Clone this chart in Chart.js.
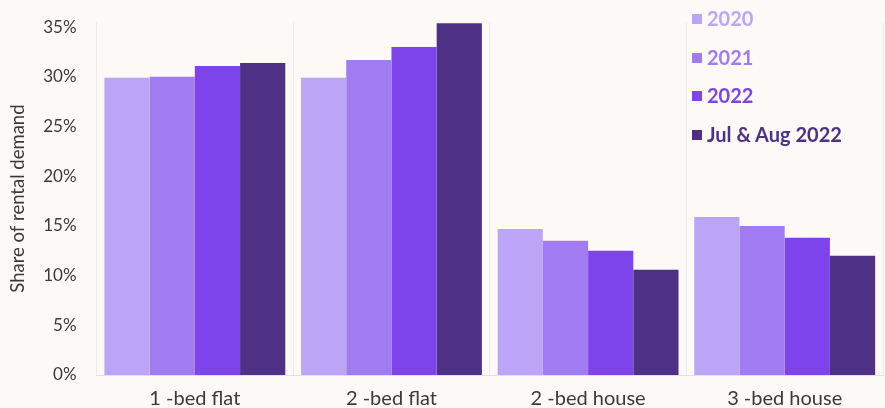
<!DOCTYPE html>
<html>
<head>
<meta charset="utf-8">
<script src="https://cdn.jsdelivr.net/npm/chart.js@4.4.0/dist/chart.umd.min.js"></script>
<style>
  html, body { margin: 0; padding: 0; background: #fcf9f7; }
  #wrap { position: relative; width: 885px; height: 408px; }
  #legend { position: absolute; left: 692px; top: 5px; font-family: Lato, sans-serif; font-weight: bold; font-size: 20px; }
  #legend div { height: 38.5px; line-height: 26px; white-space: nowrap; }
  #legend span.box { display: inline-block; width: 10px; height: 10px; margin-right: 5px; vertical-align: 2px; }
</style>
</head>
<body>
<div id="wrap">
  <canvas id="chart" width="885" height="408"></canvas>
  <div id="legend"></div>
</div>
<script>
const categories = ['1 -bed flat', '2 -bed flat', '2 -bed house', '3 -bed house'];
const seriesNames = ['2020', '2021', '2022', 'Jul & Aug 2022'];
const values2020 = [29.9, 29.9, 14.7, 15.9];
const values2021 = [30.0, 31.7, 13.5, 15.0];
const values2022 = [31.1, 33.0, 12.5, 13.8];
const valuesJulAug = [31.4, 35.4, 10.6, 12.0];
const yTicks = [0, 5, 10, 15, 20, 25, 30, 35];
const colors = ['#bca4f7', '#a07bf2', '#7d44ec', '#4e3185'];

document.addEventListener('DOMContentLoaded', function() {
    const allValues = [values2020, values2021, values2022, valuesJulAug];

    // Legend in the top right corner
    const legend = document.getElementById('legend');
    seriesNames.forEach(function(name, i) {
        const row = document.createElement('div');
        row.style.color = colors[i];
        row.innerHTML = '<span class="box" style="background:' + colors[i] + '"></span>' + name;
        legend.appendChild(row);
    });

    const ctx = document.getElementById('chart').getContext('2d');
    new Chart(ctx, {
        type: 'bar',
        data: {
            labels: categories,
            datasets: seriesNames.map(function(name, i) {
                return {
                    label: name,
                    data: allValues[i],
                    backgroundColor: colors[i],
                    borderWidth: 0,
                    categoryPercentage: 0.92,
                    barPercentage: 1.0
                };
            })
        },
        options: {
            responsive: false,
            animation: false,
            layout: { padding: { top: 12, right: 2, left: 5, bottom: -15 } },
            plugins: {
                legend: { display: false },
                tooltip: { enabled: false }
            },
            scales: {
                x: {
                    grid: { display: true, color: '#eeeaea', drawTicks: false },
                    border: { display: true, color: '#e4e0e0' },
                    ticks: { color: '#3a3a3a', font: { family: 'Lato', size: 20 }, padding: 12 }
                },
                y: {
                    min: 0,
                    max: 35.5,
                    afterBuildTicks: function(axis) {
                        axis.ticks = yTicks.map(function(v) { return { value: v }; });
                    },
                    grid: { display: false },
                    border: { display: false },
                    ticks: {
                        color: '#3a3a3a',
                        font: { family: 'Lato', size: 17 },
                        padding: 12,
                        callback: function(v) { return v + '%'; }
                    },
                    title: {
                        display: true,
                        text: 'Share of rental demand',
                        color: '#3a3a3a',
                        font: { family: 'Lato', size: 18.5 },
                        padding: 2
                    }
                }
            }
        }
    });
});
</script>
</body>
</html>
